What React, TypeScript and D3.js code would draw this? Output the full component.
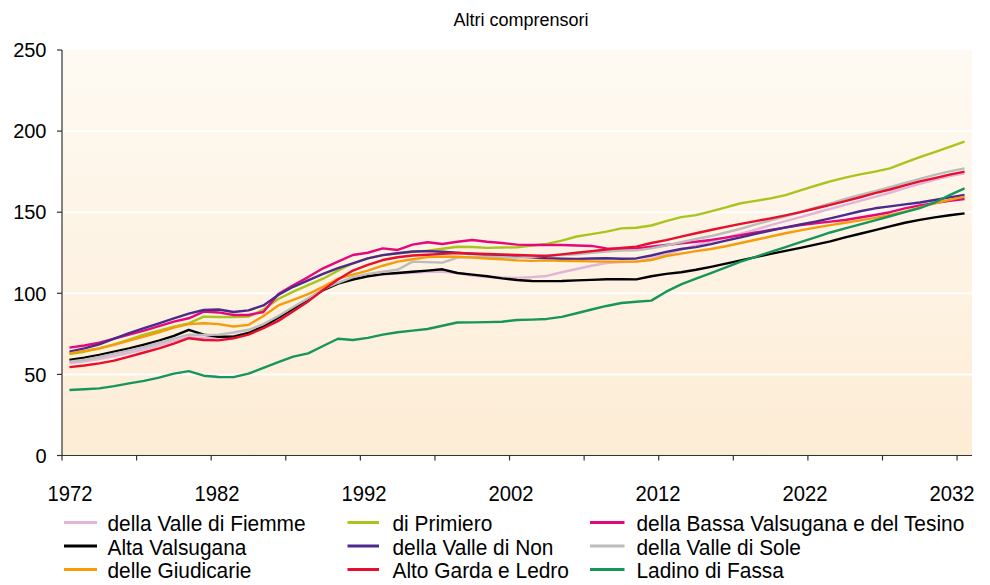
import React from "react";
import * as d3 from "d3";

const title = "Altri comprensori";
const years: number[] = d3.range(1972, 2033);
const xTickLabels = ["1972", "1982", "1992", "2002", "2012", "2022", "2032"];
const yTicks = [0, 50, 100, 150, 200, 250];
const gridValues = [50, 100, 150, 200];

const valleFiemme = [
  56.8, 58, 59.5, 61.3, 63.3, 65.5, 68, 70.5, 73, 72.5,
  72.5, 73.5, 75.5, 80, 85.5, 91, 96.5, 102, 106, 109,
  110.5, 111.5, 112.3, 112.7, 113.2, 113.3, 112.5, 111, 110.2, 109.7,
  109.5, 110, 110.7, 113, 115, 117, 118.7, 119.3, 119.5, 121.5,
  124, 127, 129.5, 132, 134.3, 136.7, 139.3, 142, 144.5, 147,
  149.5, 152, 154.5, 157, 159.5, 162, 164.8, 167.5, 170, 172.2, 174,
];
const primiero = [
  62.5, 64, 66, 68.5, 71.5, 74.5, 77, 79.5, 81.5, 85.6,
  85.4, 85.3, 85.6, 90, 96.5, 101, 105, 109, 114, 118.5,
  121.5, 123.5, 124.7, 125.5, 126.3, 127.5, 128.7, 128.5, 128, 128.2,
  128.4, 129.5, 130.5, 132.5, 135, 136.5, 138, 140, 140.4, 141.8,
  144.5, 147, 148.2, 150.5, 153, 155.5, 157, 158.5, 160.5, 163.5,
  166.3, 169, 171.3, 173.3, 175, 177, 180.5, 184, 187, 190.3, 193.5,
];
const bassaValsugana = [
  66.5, 67.8, 69.5, 72, 74.5, 77, 79.8, 82.5, 84.6, 88.7,
  88.2, 86.6, 86.6, 88.5, 99.5, 105, 110, 115.4, 119.5, 123.6,
  125, 127.7, 126.7, 130, 131.5, 130.4, 131.8, 132.9, 131.8, 131,
  130, 129.8, 129.8, 129.8, 129.5, 129.2, 127.7, 127.5, 127.7, 128.7,
  129.8, 130.8, 131.8, 132.9, 134.3, 135.9, 137.5, 139, 140.5, 142.1,
  143.2, 144.2, 145.2, 146.7, 148.3, 150, 152.4, 154.2, 155.6, 157, 158.1,
];
const altaValsugana = [
  58.9, 60.3, 62, 64, 66, 68.3, 70.8, 73.8, 77.5, 74.5,
  73.2, 73.3, 75.5, 79.5, 85, 90.5, 96.5, 102, 106, 108.5,
  110.5, 111.8, 112.5, 113.3, 114, 114.8, 112.5, 111.5, 110.5, 109.2,
  108.2, 107.6, 107.5, 107.6, 108, 108.3, 108.7, 108.7, 108.6, 110.5,
  112, 113, 114.5, 116.3, 118.3, 120.3, 122.3, 124.3, 126.2, 128,
  130, 132, 134.5, 136.7, 139, 141.3, 143.5, 145.3, 146.8, 148.1, 149.3,
];
const valleNon = [
  64, 66, 68.5, 72, 75.5, 78.5, 81.5, 84.5, 87.5, 89.7,
  90, 88.5, 89.5, 92.5, 99, 104, 108, 112, 115.5, 118.5,
  121.5, 123.5, 124.7, 125.8, 126, 125.6, 125, 124.3, 123.6, 123,
  122.6, 122.2, 121.6, 121.3, 121.2, 121.5, 121.6, 121.3, 121.5, 123.3,
  125.5, 127.3, 128.5, 130.3, 132.5, 134.5, 136.7, 138.7, 140.6, 142.4,
  144.2, 146.2, 148.4, 150.6, 152.4, 153.6, 154.8, 156, 157.5, 159.1, 160.6,
];
const valleSole = [
  57.8, 59, 60.8, 62.8, 64.8, 67, 69.5, 72, 74.5, 74.3,
  74.5, 75.8, 77.5, 81, 86, 91.5, 97, 102.5, 106.5, 110,
  112, 113.3, 114.5, 119.5, 119.2, 118.9, 122, 122.5, 122.5, 122.2,
  122, 122.5, 123.3, 123.6, 124, 125, 125.8, 126.3, 126.5, 127.7,
  129.5, 131.5, 133.5, 135.3, 137.5, 139.8, 142.5, 145, 147.5, 150,
  152.8, 155.5, 158.2, 160.7, 163, 165.5, 168, 170.5, 173, 175.2, 177,
];
const giudicarie = [
  63, 64.5, 66, 68.3, 70.8, 73.3, 76, 78.8, 81, 81.5,
  81, 79.5, 80.5, 86, 92.5, 96, 99.5, 104, 109, 111.5,
  114, 117, 119.5, 121, 122.3, 122.6, 122.5, 122, 121.5, 121,
  120.3, 120, 120.3, 120, 119.9, 119.7, 119.5, 119.5, 119.5, 120.5,
  123, 124.5, 126, 127.3, 129, 131, 133, 135, 137, 138.8,
  140.5, 142, 143.5, 145, 146.5, 148.3, 150.3, 153, 155.5, 157.6, 159.6,
];
const altoGarda = [
  54.5, 55.5, 56.8, 58.5, 61, 63.5, 66, 69, 72.3, 71.2,
  71, 72.3, 74.5, 78.5, 83, 89, 95, 102, 108.5, 114,
  117.5, 120.5, 122.2, 123.3, 123.8, 124.3, 124.8, 124.5, 124.2, 124,
  123.6, 123.3, 123, 124, 125, 126, 127, 128, 128.8, 131,
  132.8, 134.9, 137, 139, 141, 142.8, 144.5, 146.2, 148, 150,
  152.3, 154.5, 156.8, 159.2, 161.8, 164, 166.5, 169, 171, 173.2, 175,
];
const ladinoFassa = [
  40.4, 40.8, 41.4, 42.8, 44.5, 46, 48, 50.5, 52, 49.2,
  48.4, 48.3, 50.5, 54, 57.5, 61, 63, 67.5, 72, 71.2,
  72.5, 74.5, 76, 77, 78, 80, 82, 82.1, 82.2, 82.5,
  83.5, 83.8, 84.2, 85.5, 87.7, 90, 92.2, 94, 94.8, 95.5,
  101, 105.5, 109, 112.5, 116, 119.5, 122.5, 125.5, 128.5, 131.5,
  134.5, 137.5, 140, 142.5, 145, 147.5, 150, 152.5, 156, 160.5, 164.7,
];

const seriesNames = [
  "della Valle di Fiemme",
  "di Primiero",
  "della Bassa Valsugana e del Tesino",
  "Alta Valsugana",
  "della Valle di Non",
  "della Valle di Sole",
  "delle Giudicarie",
  "Alto Garda e Ledro",
  "Ladino di Fassa",
];
const seriesValues = [
  valleFiemme, primiero, bassaValsugana,
  altaValsugana, valleNon, valleSole,
  giudicarie, altoGarda, ladinoFassa,
];
const seriesColors = [
  "#e2b4d8", "#a9c41c", "#e5087c",
  "#000000", "#4a2a8c", "#bcbcbc",
  "#f59c0b", "#e60f2d", "#17955a",
];

const FONT = "'Liberation Sans', Arial, sans-serif";

export default function App() {
  const left = 62, right = 972, top = 50, bottom = 455.5;
  const x = d3.scaleLinear().domain([1971.5, 2032.5]).range([left, right]);
  const y = d3.scaleLinear().domain([0, 250]).range([bottom, top]);
  const labelX = d3.scaleLinear().domain([1972, 2032]).range([70, 952]);
  const xTickPos = d3.range(1971.5, 2033, 5);

  const line = d3
    .line<number>()
    .x((_, i) => x(years[i]))
    .y((d) => y(d));

  const legendCols = [
    { sx: 64, ex: 97, tx: 107.5 },
    { sx: 347.5, ex: 379, tx: 392.5 },
    { sx: 590, ex: 624.5, tx: 636.5 },
  ];
  const legendRows = [523.5, 547, 570.5];

  return (
    <div style={{ position: "absolute", left: 0, top: 0 }}>
      <svg width={990} height={585} style={{ display: "block", fontFamily: FONT }}>
        <defs>
          <linearGradient id="bg" x1="0" y1="0" x2="0" y2="1">
            <stop offset="0%" stopColor="#fefaf3" />
            <stop offset="100%" stopColor="#fdecd5" />
          </linearGradient>
        </defs>
        <rect x={0} y={0} width={990} height={585} fill="#ffffff" />
        <text x={521} y={26} textAnchor="middle" fontSize={18} fill="#000">
          {title}
        </text>
        <rect x={left} y={top} width={right - left} height={bottom - top} fill="url(#bg)" />
        {gridValues.map((v) => (
          <line key={v} x1={left} x2={right} y1={y(v)} y2={y(v)} stroke="#ffffff" strokeWidth={2} />
        ))}
        {seriesValues.map((vals, i) => (
          <path
            key={seriesNames[i]}
            d={line(vals) || ""}
            fill="none"
            stroke={seriesColors[i]}
            strokeWidth={2.4}
            strokeLinejoin="round"
          />
        ))}
        <line x1={left} x2={left} y1={top} y2={bottom} stroke="#333" strokeWidth={1.2} />
        <line x1={left} x2={right} y1={bottom} y2={bottom} stroke="#333" strokeWidth={1.2} />
        {yTicks.map((t) => (
          <g key={t}>
            <line x1={left - 5} x2={left} y1={y(t)} y2={y(t)} stroke="#333" strokeWidth={1.2} />
            <text x={46.5} y={y(t)} dy="0.36em" textAnchor="end" fontSize={20} fill="#000">
              {t}
            </text>
          </g>
        ))}
        {xTickPos.map((t) => (
          <line key={t} x1={x(t)} x2={x(t)} y1={bottom} y2={bottom + 5} stroke="#333" strokeWidth={1.2} />
        ))}
        {xTickLabels.map((lab) => (
          <text
            key={lab}
            transform={`translate(${labelX(+lab)},501) scale(0.92,1)`}
            textAnchor="middle"
            fontSize={22}
            fill="#000"
          >
            {lab}
          </text>
        ))}
        {seriesNames.map((name, i) => {
          const c = legendCols[i % 3];
          const ry = legendRows[Math.floor(i / 3)];
          return (
            <g key={name}>
              <line x1={c.sx} x2={c.ex} y1={ry - 1} y2={ry - 1} stroke={seriesColors[i]} strokeWidth={3} />
              <text
                transform={`translate(${c.tx},${ry}) scale(0.95,1)`}
                dy="0.36em"
                fontSize={22}
                fill="#000"
              >
                {name}
              </text>
            </g>
          );
        })}
      </svg>
    </div>
  );
}
